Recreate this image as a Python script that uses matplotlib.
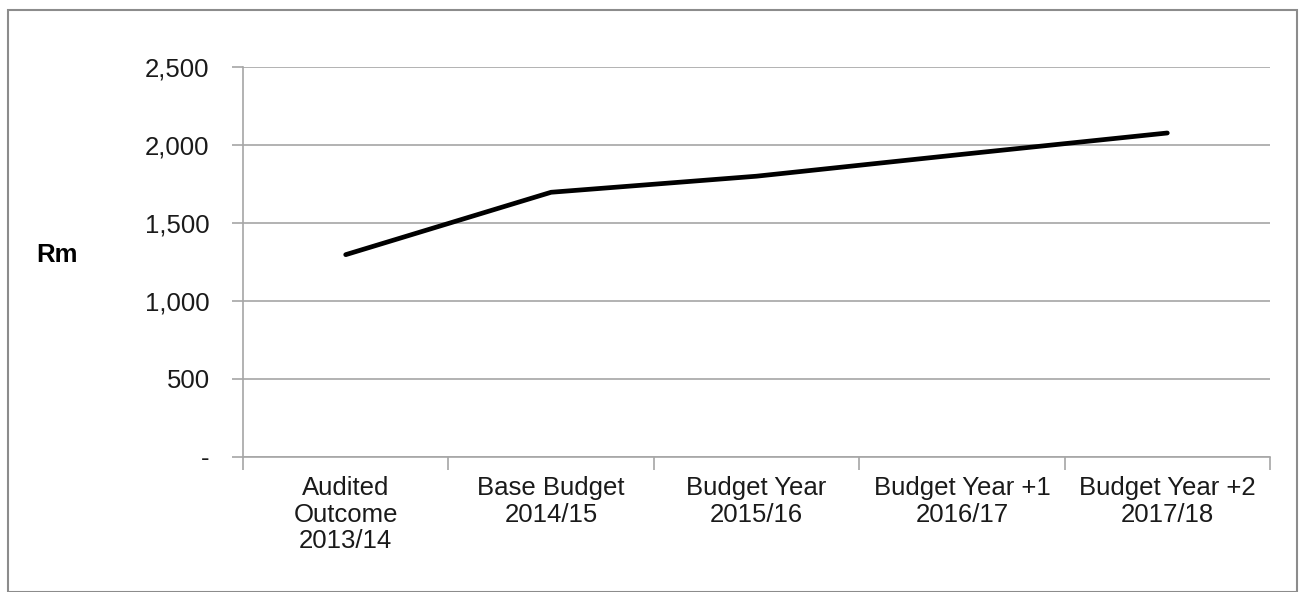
import matplotlib.pyplot as plt
import numpy as np
from matplotlib.ticker import FuncFormatter, FixedLocator
from matplotlib.patches import Rectangle

plt.rcParams['font.family'] = ['Liberation Sans', 'DejaVu Sans']

categories = ['Audited\nOutcome\n2013/14', 'Base Budget\n2014/15', 'Budget Year\n2015/16',
              'Budget Year +1\n2016/17', 'Budget Year +2\n2017/18']
values = [1297, 1697, 1800, 1940, 2077]
yticks = [0, 500, 1000, 1500, 2000, 2500]

grey = '#a6a6a6'

fig = plt.figure(figsize=(12.99, 5.92), dpi=100)
# outer chart border
fig.patches.append(Rectangle((8 / 1299, 0), 1 - 8 / 1299 - 0.0015, 1 - 10 / 592,
                             transform=fig.transFigure, fill=False,
                             edgecolor='#8c8c8c', linewidth=1.5))

ax = fig.add_axes([243 / 1299, 1 - 457 / 592, (1270 - 243) / 1299, (457 - 67) / 592])
x = np.arange(len(categories))
ax.plot(x, values, color='black', linewidth=3.4, solid_capstyle='round', solid_joinstyle='round')

ax.set_xlim(-0.5, len(categories) - 0.5)
ax.set_ylim(0, 2500)
ax.set_yticks(yticks)
ax.yaxis.set_major_formatter(FuncFormatter(lambda v, p: '-' if v == 0 else f'{int(v):,}'))
ax.grid(axis='y', color=grey, linewidth=1.2)
ax.set_axisbelow(True)

ax.set_xticks(x)
ax.set_xticklabels(categories, fontsize=18.5, linespacing=1.12, color='#1a1a1a')
ax.xaxis.set_minor_locator(FixedLocator(np.arange(-0.5, len(categories), 1.0)))
ax.tick_params(axis='x', which='major', length=0, pad=14)
ax.tick_params(axis='x', which='minor', length=9, color=grey, width=1.2)
ax.tick_params(axis='y', length=8, color=grey, width=1.2, labelsize=18.5, pad=16,
               labelcolor='#1a1a1a')

for side in ['top', 'right']:
    ax.spines[side].set_visible(False)
for side in ['left', 'bottom']:
    ax.spines[side].set_color(grey)
    ax.spines[side].set_linewidth(1.2)

fig.text(57 / 1299, 1 - 255 / 592, 'Rm', fontsize=18.5, fontweight='bold',
         ha='center', va='center')

fig.savefig('out.png', dpi=100, facecolor='white')
